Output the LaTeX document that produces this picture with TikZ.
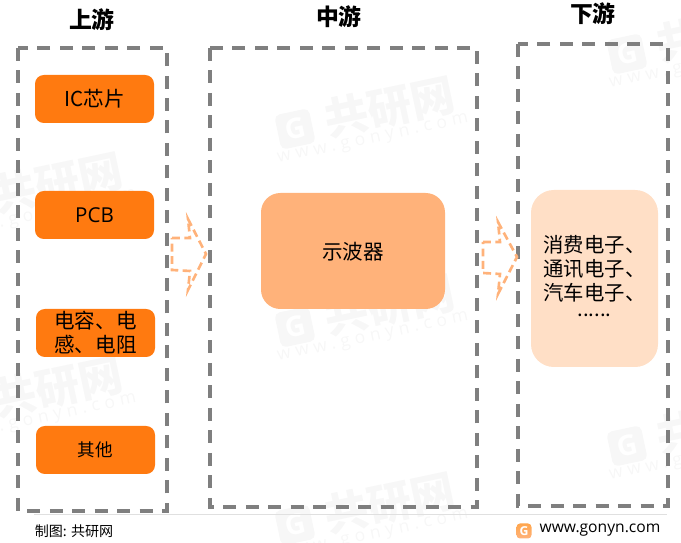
\documentclass[tikz,border=0pt]{standalone}
\usepackage{fontspec}
\setmainfont{Noto Sans CJK SC}
\newfontfamily\latinfont{Open Sans}
\newfontfamily\spreadfont[LetterSpace=28]{Open Sans}
\definecolor{boxorange}{HTML}{FF7A10}
\definecolor{midorange}{HTML}{FFB27A}
\definecolor{paleorange}{HTML}{FFDFC6}
\definecolor{framegray}{HTML}{7F7F7F}
\definecolor{markgray}{HTML}{F7F7F7}
\tikzset{
frame/.style={draw=framegray, line width=1.8pt, dash pattern=on 7.4pt off 5.4pt},
upbox/.style={fill=boxorange, rounded corners=5pt, minimum width=119*0.02cm, minimum height=48*0.02cm, align=center, inner sep=0pt, font=\fontsize{11.7}{13.6}\selectfont},
head/.style={font=\fontsize{13}{15}\selectfont\bfseries},
flow/.style={draw=midorange, line width=1.5pt, dash pattern=on 4.5pt off 2.5pt},
markcn/.style={text=markgray, rotate=12, font=\fontsize{25}{28}\selectfont\bfseries},
markweb/.style={text=markgray, rotate=12, font=\fontsize{10}{12}\selectfont\spreadfont},
markg/.style={fill=markgray, text=white, rotate=12, rounded corners=3pt, minimum size=20pt, inner sep=0pt, font=\fontsize{16}{18}\selectfont\bfseries\latinfont}
}
\begin{document}
\begin{tikzpicture}[x=0.02cm,y=-0.02cm]
\useasboundingbox (0,0) rectangle (681,543);
%watermarks
\foreach \x/\y in {390/107,58/183,390/305,58/387,722/32,722/424,390/503}
{
\node[markcn] (wmcn\x\y) at (\x,\y) {共研网};
\node[markweb] (wmweb\x\y) at (\x-17,\y+33) {www.gonyn.com};
\node[markg] (wmg\x\y) at (\x-95,\y+22) {G};
}
%frames
\draw[frame] (18,48) rectangle (167,511);
\draw[frame] (210,48) rectangle (477,507);
\draw[frame] (518,44) rectangle (668,506);
%titles
\node[head] (up) at (92,20) {上游};
\node[head] (mid) at (339,17) {中游};
\node[head] (down) at (593,14) {下游};
%upstream boxes
\node[upbox] (ic) at (94.5,99) {IC芯片};
\node[upbox] (pcb) at (94.5,215) {\latinfont PCB};
\node[upbox] (rcl) at (95.5,333) {电容、电\\感、电阻};
\node[upbox, font=\fontsize{10}{12}\selectfont] (other) at (95.5,450) {其他};
%scope
\node[fill=midorange, rounded corners=11pt, minimum width=184*0.02cm, minimum height=116*0.02cm] (scope) at (353,251) {};
\node[font=\fontsize{11.7}{13.6}\selectfont] (scopetext) at (353,252) {示波器};
\node[fill=paleorange, rounded corners=13pt, minimum width=127*0.02cm, minimum height=177*0.02cm] (apps) at (594.5,278.5) {};
\node[align=center, font=\fontsize{11.6}{13.6}\selectfont] (appstext) at (594.5,276) {消费电子、\\通讯电子、\\汽车电子、\\[-4.5pt]......};
%arrows
\draw[flow] (172,238) -- (190,238) -- (188,219) -- (206,254) -- (188,290) -- (190,271) -- (172,270) -- cycle;
\draw[flow] (483,242) -- (500,242) -- (498,222) -- (517,257) -- (498,294) -- (500,274) -- (483,273) -- cycle;
%footer
\draw[black!12, line width=0.5pt] (34,514) -- (667,514);
\node[font=\fontsize{8}{10}\selectfont] (source) at (74,531) {制图: 共研网};
\node[font=\fontsize{8.9}{10}\selectfont\latinfont] (site) at (600,530) {www.gonyn.com};
\node[top color=orange!70, bottom color=midorange, rounded corners=2pt, minimum width=15*0.02cm, minimum height=15*0.02cm, inner sep=0pt, text=white, font=\fontsize{7}{8}\selectfont\bfseries\latinfont] (logo) at (524,531) {G};
\end{tikzpicture}
\end{document}
